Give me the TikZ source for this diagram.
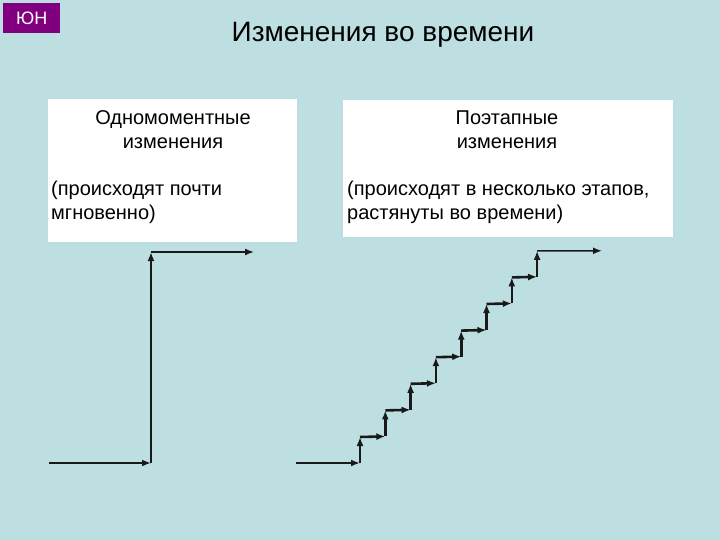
\documentclass[tikz,border=0pt]{standalone}
\usepackage{fontspec}
\setmainfont{Liberation Sans}
\usetikzlibrary{arrows.meta}
\definecolor{bgcol}{HTML}{BEDFE2}
\definecolor{badge}{HTML}{800080}
\tikzset{
  seg/.style={draw=black!90, line width=2.6pt, -{Latex[length=9pt,width=7pt]}},
  thinseg/.style={draw=black!90, line width=1.6pt, -{Latex[length=9pt,width=7pt]}},
  whitebox/.style={fill=white, draw=none},
  boxtext/.style={font=\fontsize{20}{24}\selectfont, inner sep=0pt},
}
\begin{document}
\begin{tikzpicture}[x=1pt,y=-1pt]
\useasboundingbox (0,0) rectangle (720,540);
\fill[bgcol] (0,0) rectangle (720,540);
% badge
\node[fill=badge, minimum width=57pt, minimum height=30pt, inner sep=0pt, anchor=north west,
      text=white, font=\fontsize{18}{20}\selectfont] (badge) at (3,3) {ЮН};
% title
\node[font=\fontsize{28}{32}\selectfont, anchor=base, inner sep=0pt] (title) at (383,42) {Изменения во времени};
% left box
\fill[whitebox] (48,99) rectangle (297,242);
\node[boxtext, anchor=base] (l1) at (173,125) {Одномоментные};
\node[boxtext, anchor=base] (l2) at (173,149) {изменения};
\node[boxtext, anchor=base west] (l3) at (51,196) {(происходят почти};
\node[boxtext, anchor=base west] (l4) at (51,220) {мгновенно)};
% right box
\fill[whitebox] (343,100) rectangle (673,237);
\node[boxtext, anchor=base] (r1) at (507,125) {Поэтапные};
\node[boxtext, anchor=base] (r2) at (507,149) {изменения};
\node[boxtext, anchor=base west] (r3) at (347,196) {(происходят в несколько этапов,};
\node[boxtext, anchor=base west] (r4) at (347,220) {растянуты во времени)};
% left jump
\coordinate (a0) at (49,463);
\coordinate (a1) at (151,463);
\coordinate (a2) at (151,252);
\coordinate (a3) at (254,252);
\draw[seg] (a0) -- (a1);
\draw[seg] (a1) -- (a2);
\draw[thinseg] (a2) -- (a3);
% staircase
\coordinate (s0) at (296,463);
\foreach \i in {0,...,7} {
  \pgfmathsetmacro{\xx}{360+25.3*\i}
  \pgfmathsetmacro{\ya}{463-26.6*\i}
  \pgfmathsetmacro{\yb}{437-26.6*\i}
  \coordinate (b\i) at (\xx,\ya);
  \coordinate (t\i) at (\xx,\yb);
}
\coordinate (end) at (602,250.8);
\draw[seg] (s0) -- (b0);
\foreach \i in {0,...,7} {
  \draw[seg] (b\i) -- (t\i);
}
\foreach \i [evaluate=\i as \j using int(\i+1)] in {0,...,6} {
  \draw[seg] (t\i) -- (b\j);
}
\draw[thinseg] (t7) -- (end);
\end{tikzpicture}
\end{document}
